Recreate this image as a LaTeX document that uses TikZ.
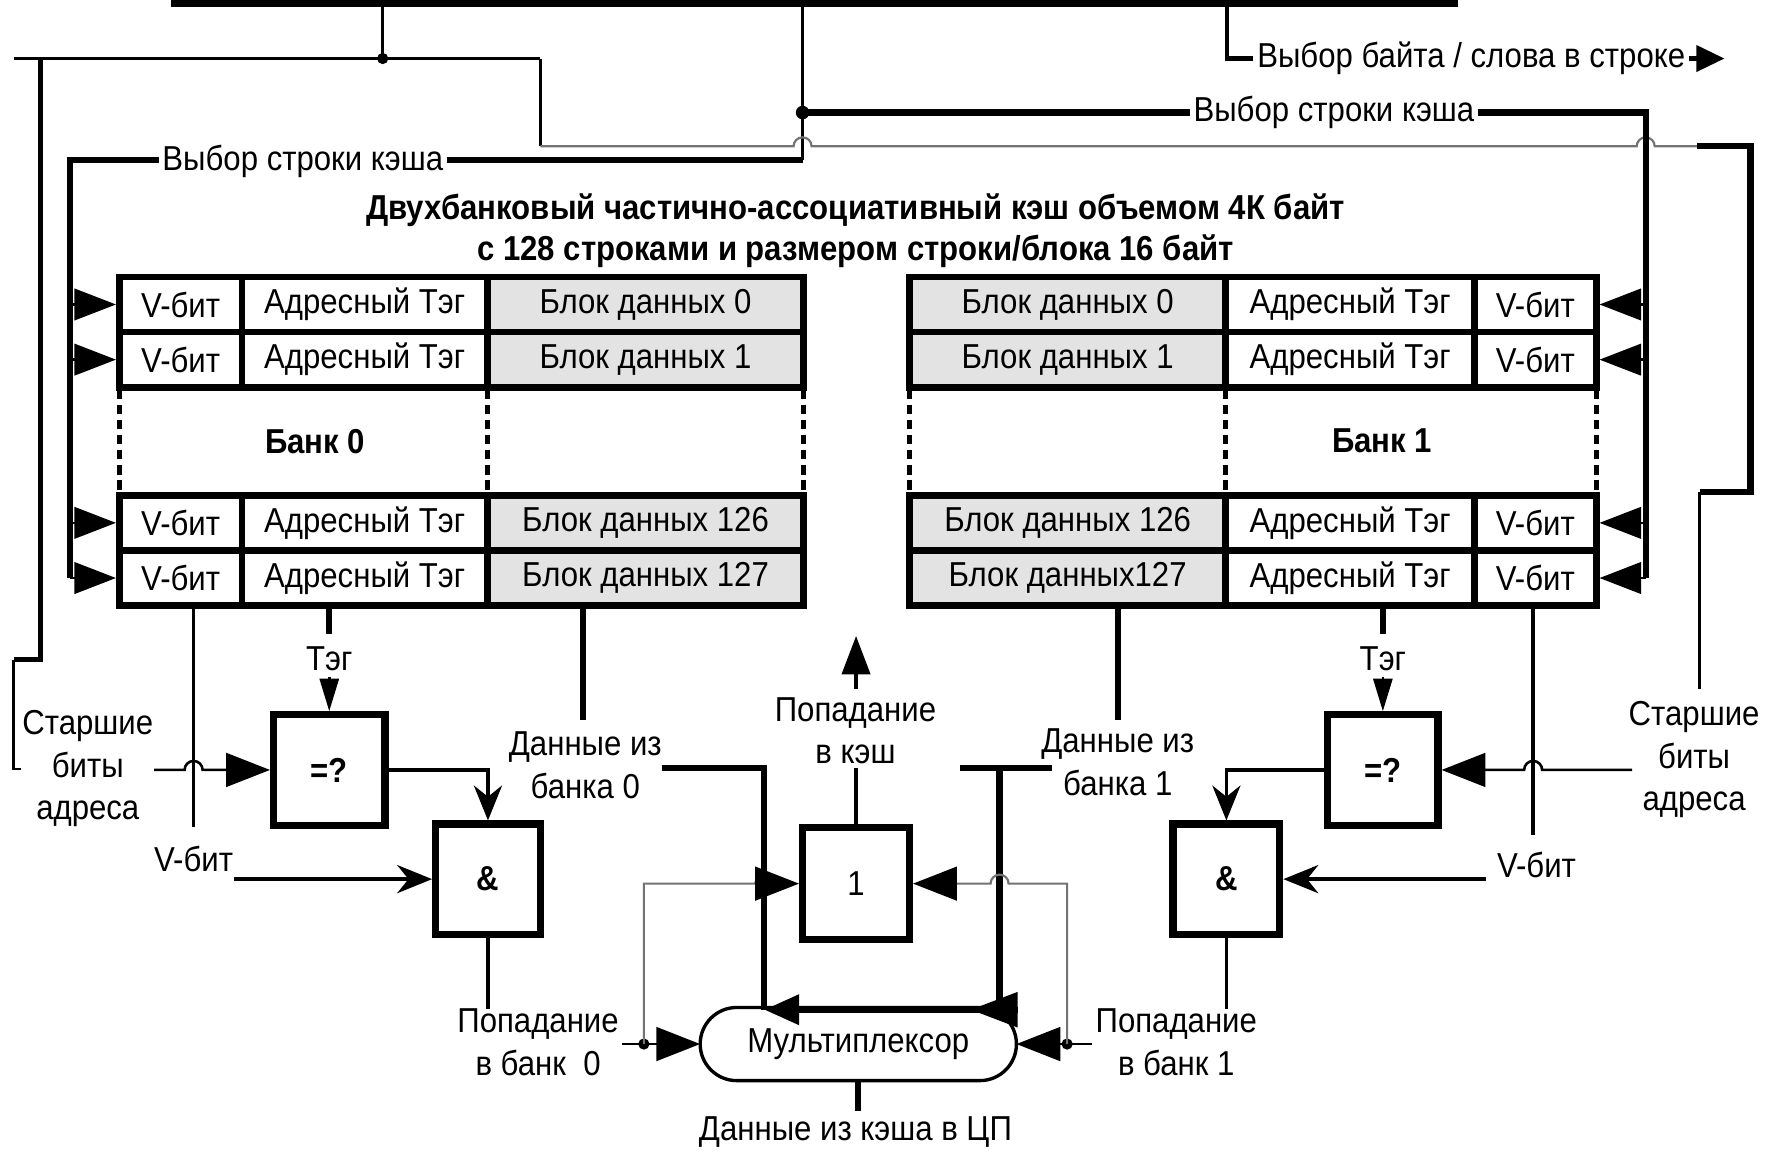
\documentclass[tikz,border=0pt]{standalone}
\usepackage{fontspec}
\setmainfont{Liberation Sans}[FakeStretch=0.9]
\usetikzlibrary{arrows.meta,shapes.misc,calc}
\begin{document}
\begin{tikzpicture}[x=0.02cm,y=-0.02cm,
  every node/.style={inner sep=0pt,outer sep=0pt,font=\fontsize{17.5}{21.5}\selectfont},
  heavy/.style={line width=3.2pt},
  wire/.style={line width=1.7pt},
  fine/.style={line width=1.3pt},
  greyw/.style={line width=1.1pt,draw=black!55},
  cell/.style={draw,line width=3.4pt,minimum height=0.98cm,outer sep=1.7pt,fill=white},
  datacell/.style={cell,fill=black!11},
  gate/.style={draw,line width=3.6pt,fill=white,minimum width=1.92cm,minimum height=1.96cm,outer sep=1.8pt},
  onwire/.style={fill=white,inner xsep=2pt,inner ysep=1pt},
  gapline/.style={line width=2.6pt,dash pattern=on 5pt off 2.6pt},
  rowtip/.style={-{Triangle[length=0.74cm,width=0.56cm]}},
  bigtip/.style={-{Triangle[length=0.78cm,width=0.6cm,color=black]}},
  tagtip/.style={-{Triangle[length=0.58cm,width=0.34cm]}},
  andtip/.style={-{Stealth[length=0.62cm,width=0.5cm,inset=0.2cm]}},
  boldtext/.style={font=\fontsize{17.5}{21}\selectfont\bfseries}
]
\useasboundingbox (0,0) rectangle (1568,1027);

% ---------- address register bus and its taps ----------
\coordinate (busL) at (152,3.5);
\coordinate (busR) at (1295,3.5);
\draw[line width=3.6pt] (busL) -- (busR);

\coordinate (jTag) at (340,52);
\coordinate (jRow) at (713,100);
\coordinate (rowL) at (713,142);
\coordinate (jByte) at (1090,52);
\coordinate (byteEnd) at (1532,52);

\draw[wire] (jTag |- busL) -- (jTag);
\draw[wire] (jRow |- busL) -- (rowL);
\draw[line width=2.2pt,-{Triangle[length=0.5cm,width=0.46cm]}] (jByte |- busL) |- (byteEnd);

% high address bits: left branch
\coordinate (hiL0) at (12,52);
\coordinate (hiBend) at (480,52);
\draw[wire] (hiL0) -- (hiBend);
\draw[line width=2.8pt] (36,52) -- (36,586) -- (12,586);
\draw[fine] (12,586) -- (12,683) -- (19,683);
\fill (jTag) circle[radius=0.1cm];

% high address bits: right branch
\draw[fine] (hiBend) -- (480,130);
\draw[greyw] (480,130) -- (705,130) arc[start angle=180,end angle=0,radius=0.16cm]
  -- (1454,130) arc[start angle=180,end angle=0,radius=0.16cm] -- (1508,130);
\draw[heavy] (1508,130) -- (1555,130) -- (1555,437) -- (1510,437);
\draw[fine] (1510,437) -- (1510,612);

% cache row select buses
\draw[heavy] (rowL) -- (62,142) -- (62,513.5);
\draw[heavy] (jRow) -- (1462,100) -- (1462,513.5);
\fill (jRow) circle[radius=0.12cm];

\node[onwire] (selL) at (269,143) {Выбор строки кэша};
\node[onwire] (selR) at (1185,100) {Выбор строки кэша};
\node[onwire] (bytesel) at (1307,52) {Выбор байта / слова в строке};

% ---------- title ----------
\node[align=center,boldtext] (title) at (760,205)
  {Двухбанковый частично-ассоциативный кэш объемом 4К байт\\
   с 128 строками и размером строки/блока 16 байт};

% ---------- bank 0 ----------
\foreach \r/\y/\t in {0/270.5/{Блок данных 0},1/319.5/{Блок данных 1},
                      2/464.5/{Блок данных 126},3/513.5/{Блок данных 127}}{
  \node[cell,minimum width=2.18cm] (b0v\r) at (160.5,\y) {V-бит};
  \node[cell,minimum width=4.36cm] (b0t\r) at (324,\y) {Адресный Тэг};
  \node[datacell,minimum width=5.62cm] (b0d\r) at (573.5,\y) {\t};
  \draw[fine,rowtip] (62,\y) -- (b0v\r.west);
}
\foreach \x in {106,433,714}{\draw[gapline] (\x,346) -- (\x,438);}
\node[boldtext] (bank0) at (280,392) {Банк 0};

% ---------- bank 1 ----------
\foreach \r/\y/\t in {0/270.5/{Блок данных 0},1/319.5/{Блок данных 1},
                      2/464.5/{Блок данных 126},3/513.5/{Блок данных127}}{
  \node[datacell,minimum width=5.62cm] (b1d\r) at (948.5,\y) {\t};
  \node[cell,minimum width=4.42cm] (b1t\r) at (1199.5,\y) {Адресный Тэг};
  \node[cell,minimum width=2.16cm] (b1v\r) at (1364,\y) {V-бит};
  \draw[fine,rowtip] (1462,\y) -- (b1v\r.east);
}
\foreach \x in {808,1089,1418}{\draw[gapline] (\x,346) -- (\x,438);}
\node[boldtext] (bank1) at (1228,392) {Банк 1};

% ---------- comparators, AND gates, OR gate, multiplexer ----------
\node[gate,minimum width=1.98cm,boldtext] (cmp0) at (292.5,684) {=?};
\node[gate,minimum width=1.86cm,boldtext] (and0) at (433.5,781) {\&};
\node[gate,minimum width=1.9cm,minimum height=2cm] (orgate) at (760.5,785) {1};
\node[gate,minimum width=1.96cm,boldtext] (cmp1) at (1228.5,684) {=?};
\node[gate,minimum width=1.9cm,boldtext] (and1) at (1089.5,781) {\&};
\node[draw,rounded rectangle,line width=1.7pt,fill=white,
      minimum width=5.62cm,minimum height=1.3cm] (mux) at (762.5,927.5) {Мультиплексор};

% ---------- bank 0 logic ----------
\coordinate (v0end) at (172,735);
\draw[wire] (v0end |- b0v3.south) -- (v0end);
\node (vlbl0) at (172,763) {V-бит};
\draw[wire,andtip] (208,781) -- (and0.west);

\node (tag0) at (292.5,585) {Тэг};
\draw[heavy] (tag0 |- b0t3.south) -- (292.5,563);
\draw[fine,tagtip] ($(cmp0.north)+(0,-30)$) -- (cmp0.north);

\node[align=center] (hiaddr0) at (78,683) {Старшие\\биты\\адреса};
\draw[fine,bigtip] (137,684) -- (164,684) arc[start angle=180,end angle=0,radius=0.16cm] -- (cmp0.west);
\draw[wire,andtip] (cmp0.east) -| (and0.north);
\draw[wire] (and0.south) -- ++(0,63);

\coordinate (d0end) at (518,640);
\draw[heavy] (d0end |- b0d3.south) -- (d0end);
\node[align=center] (data0lbl) at (520,680) {Данные из\\банка 0};

% ---------- bank 1 logic ----------
\coordinate (v1end) at (1362,742);
\draw[wire] (v1end |- b1v3.south) -- (v1end);
\node (vlbl1) at (1365,768) {V-бит};
\draw[wire,andtip] (1320,781) -- (and1.east);

\node (tag1) at (1228.5,585) {Тэг};
\draw[heavy] (tag1 |- b1t3.south) -- (1228.5,563);
\draw[fine,tagtip] ($(cmp1.north)+(0,-30)$) -- (cmp1.north);

\node[align=center] (hiaddr1) at (1505,675) {Старшие\\биты\\адреса};
\draw[fine,bigtip] (1450,684) -- (1370,684) arc[start angle=0,end angle=180,radius=0.16cm] -- (cmp1.east);
\draw[wire,andtip] (cmp1.west) -| (and1.north);
\draw[wire] (and1.south) -- ++(0,63);

\coordinate (d1end) at (993,640);
\draw[heavy] (d1end |- b1d3.south) -- (d1end);
\node[align=center] (data1lbl) at (993,677) {Данные из\\банка 1};

% ---------- data paths into the multiplexer ----------
\draw[heavy] (588,682) -- (679,682) -- (679,897);
\draw[heavy] (853,682) -- (935,682);
\draw[heavy] (888,682) -- (888,897);
\draw[heavy,-{Triangle[length=0.62cm,width=0.52cm]}] (888,897) -- (679,897);
\draw[heavy,-{Triangle[length=0.84cm,width=0.6cm]}] (904,897) -- (862,897);

% ---------- hit signals ----------
\node[align=center] (hit0lbl) at (478,926) {Попадание\\в банк\enspace0};
\coordinate (hit0dot) at (572,927.5);
\draw[fine,bigtip] (553,927.5) -- (mux.west);
\fill (hit0dot) circle[radius=0.1cm];
\draw[greyw,bigtip] (hit0dot) |- (671,785) arc[start angle=180,end angle=0,radius=0.16cm] -- (orgate.west);

\node[align=center] (hit1lbl) at (1045,926) {Попадание\\в банк 1};
\coordinate (hit1dot) at (948,927.5);
\draw[fine,bigtip] (970,927.5) -- (mux.east);
\fill (hit1dot) circle[radius=0.1cm];
\draw[greyw,bigtip] (hit1dot) |- (896,785) arc[start angle=0,end angle=180,radius=0.16cm] -- (orgate.east);

\node[align=center] (hitlbl) at (760,649) {Попадание\\в кэш};
\draw[wire] (orgate.north) -- (760.5,682);
\draw[wire,-{Triangle[length=0.68cm,width=0.5cm]}] (760.5,612) -- (760.5,565);

% ---------- multiplexer output ----------
\draw[heavy] (mux.south) -- ++(0,27);
\node (outlbl) at (760,1006) {Данные из кэша в ЦП};

\end{tikzpicture}
\end{document}
